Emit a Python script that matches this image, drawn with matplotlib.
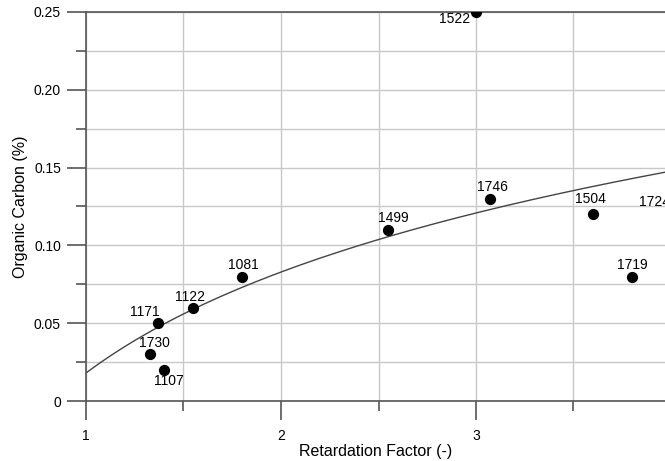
import matplotlib
matplotlib.use("Agg")
import matplotlib.pyplot as plt
import numpy as np
from matplotlib.ticker import MultipleLocator, FuncFormatter

plt.rcParams["font.family"] = ["Liberation Sans", "DejaVu Sans"]

# sample ids with retardation factor and organic carbon
sample_ids = ["1730", "1107", "1171", "1122", "1081", "1499",
              "1746", "1504", "1719", "1522", "1724"]
retardation = [1.33, 1.40, 1.37, 1.55, 1.80, 2.55, 3.07, 3.60, 3.80, 3.00, 4.02]
organic_c = [0.030, 0.020, 0.050, 0.060, 0.080, 0.110, 0.130, 0.120, 0.080, 0.250, 0.120]

# logarithmic fit: OC = FIT_A + FIT_B * ln(R)
FIT_A = 0.018
FIT_B = 0.0936

# label offsets (pixels, label centre relative to point)
label_dx = [4, 5, -13, -3, 1, 5, 3, -3, 0, -21, -20]
label_dy = [11, -11, 11, 11, 12, 12, 12, 15, 12, -7, 12]

W, H = 665, 461
fig = plt.figure(figsize=(W / 100, H / 100), dpi=100)
ax = fig.add_axes([86 / W, 1 - 401 / H, 1 - 86 / W, (401 - 12) / H])

grid_c = "#c8c8c8"
spine_c = "#555555"

ax.set_xlim(1, 1 + (W - 86) / 195)
ax.set_ylim(0, 0.25)
ax.xaxis.set_major_locator(MultipleLocator(1))
ax.xaxis.set_minor_locator(MultipleLocator(0.5))
ax.yaxis.set_major_locator(MultipleLocator(0.05))
ax.yaxis.set_minor_locator(MultipleLocator(0.025))
ax.yaxis.set_major_formatter(FuncFormatter(lambda v, p: "0" if abs(v) < 1e-9 else f"{v:.2f}"))
ax.grid(True, which="both", color=grid_c, lw=1, zorder=0)

for s in ["left", "bottom", "top"]:
    ax.spines[s].set_color(spine_c)
    ax.spines[s].set_linewidth(1.2)
ax.spines["right"].set_visible(False)

ax.tick_params(which="major", length=14, width=1.2, color=spine_c,
               labelsize=10, pad=4)
ax.tick_params(which="minor", length=7, width=1.2, color=spine_c)
ax.tick_params(axis="x", which="major", pad=6)

xs = np.linspace(1, 4.2, 200)
ax.plot(xs, FIT_A + FIT_B * np.log(xs), color="#444444", lw=1, zorder=2)

ax.scatter(retardation, organic_c, s=50, color="black", zorder=3, clip_on=True)

for sid, x, y, dx, dy in zip(sample_ids, retardation, organic_c, label_dx, label_dy):
    ax.annotate(sid, xy=(x, y), xytext=(dx * 0.72, dy * 0.72),
                textcoords="offset points", ha="center", va="center",
                fontsize=10, annotation_clip=False, zorder=4)

ax.set_xlabel("Retardation Factor (-)", fontsize=11.5, labelpad=1)
ax.set_ylabel("Organic Carbon (%)", fontsize=11.5, labelpad=4)

fig.savefig("out.png", dpi=100)
